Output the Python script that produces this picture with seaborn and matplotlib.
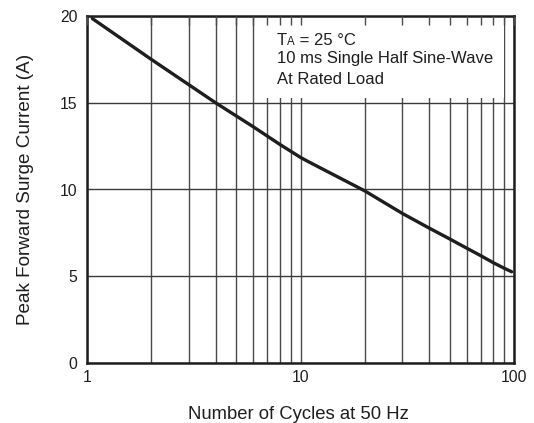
import matplotlib
matplotlib.use("Agg")
import matplotlib.pyplot as plt
import seaborn as sns
import pandas as pd
from matplotlib.ticker import LogLocator, FixedLocator, NullFormatter, FixedFormatter

# Surge current derating curve
cycles = [1.06, 2, 4, 6, 8, 10, 10.9, 20, 30, 40, 50, 60, 70, 80, 90, 97.5]
current = [19.85, 17.5, 15.0, 13.62, 12.6, 11.85, 11.6, 9.92, 8.62, 7.78,
           7.15, 6.62, 6.18, 5.78, 5.46, 5.26]

x_ticks = [1, 10, 100]
x_tick_labels = ["1", "10", "100"]
y_ticks = [0, 5, 10, 15, 20]

note_lines = ["10 ms Single Half Sine-Wave", "At Rated Load"]

sns.set_style("white")
plt.rcParams["font.family"] = ["Liberation Sans", "DejaVu Sans"]
ink = "#1e1e1e"
grid_col = "#4a4a4a"

df = pd.DataFrame({"cycles": cycles, "current": current})

fig = plt.figure(figsize=(5.34, 4.23), dpi=100)
ax = fig.add_axes([87 / 534, 1 - 363 / 423, 427 / 534, 347 / 423])

sns.lineplot(data=df, x="cycles", y="current", ax=ax, color=ink,
             linewidth=2.4, sort=False, zorder=3)

ax.set_xscale("log")
ax.set_xlim(1, 100)
ax.set_ylim(0, 20)
ax.xaxis.set_major_locator(FixedLocator(x_ticks))
ax.xaxis.set_major_formatter(FixedFormatter(x_tick_labels))
ax.xaxis.set_minor_locator(LogLocator(base=10, subs=range(2, 10)))
ax.xaxis.set_minor_formatter(NullFormatter())
ax.set_yticks(y_ticks)
ax.grid(False)

# grid lines kept underneath the note panel
for xv in list(ax.xaxis.get_minorticklocs()) + x_ticks:
    ax.axvline(xv, color=grid_col, linewidth=1.0, zorder=0.5)
for yv in y_ticks:
    ax.axhline(yv, color="#3a3a3a", linewidth=1.0, zorder=0.5)

# axis ticks sit above the panel; only the top ones stand out
ax.set_axisbelow(False)
ax.tick_params(axis="both", which="both", length=0, labelsize=11.3,
               labelcolor=ink)
ax.tick_params(axis="x", which="both", top=True, direction="in",
               length=6.5, width=1.0, color=grid_col, pad=5)
ax.tick_params(axis="y", pad=7)

for sp in ax.spines.values():
    sp.set_visible(True)
    sp.set_linewidth(1.8)
    sp.set_color(ink)

# white panel behind the test-condition note
ax.axvspan(6.15, 90, ymin=15.3 / 20, ymax=1, facecolor="white",
           edgecolor="none", zorder=1)

# note text
t1 = ax.text(7.75, 18.33, "T", fontsize=12, color=ink, va="baseline", zorder=4)
t2 = ax.annotate("A", xy=(1, 0), xycoords=t1, va="bottom", ha="left",
                 fontsize=8.3, color=ink, zorder=4)
ax.annotate(" = 25 °C", xy=(1, 0), xycoords=t2, va="bottom", ha="left",
            fontsize=12, color=ink, zorder=4)
for yv, line in zip([17.29, 16.08], note_lines):
    ax.text(7.75, yv, line, fontsize=12, color=ink, va="baseline", zorder=4)

ax.set_xlabel("Number of Cycles at 50 Hz", fontsize=13.3, color=ink,
              va="baseline")
ax.set_ylabel("Peak Forward Surge Current (A)", fontsize=13.6, color=ink)
ax.xaxis.set_label_coords(0.495, -0.161)
ax.yaxis.set_label_coords(-0.124, 0.5)

fig.savefig("out.png", dpi=100)
